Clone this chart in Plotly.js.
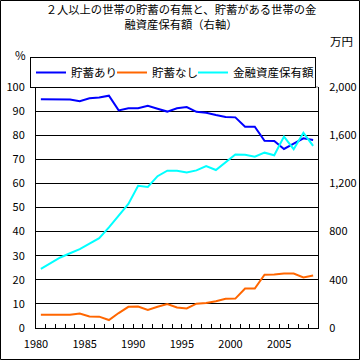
<!DOCTYPE html>
<html>
<head>
<meta charset="utf-8">
<script src="https://cdn.plot.ly/plotly-3.0.1.min.js"></script>
<style>html,body{margin:0;padding:0;background:#fff;}#chart{width:362px;height:362px;}</style>
</head>
<body>
<div id="chart"></div>
<script>
const years = [1980,1981,1982,1983,1984,1985,1986,1987,1988,1989,1990,1991,1992,1993,1994,1995,1996,1997,1998,1999,2000,2001,2002,2003,2004,2005,2006,2007,2008];
const withSavings = [94.9,94.9,94.9,94.8,94.1,95.3,95.6,96.4,90.3,91.2,91.2,92.2,91.0,89.8,91.2,91.7,89.7,89.3,88.4,87.6,87.4,83.5,83.5,77.7,77.6,74.3,76.5,78.7,78.0];
const withoutSavings = [5.5,5.5,5.5,5.5,6.0,4.8,4.7,3.3,6.2,8.8,8.9,7.5,8.8,9.9,8.5,8.1,10.1,10.4,11.1,12.1,12.2,16.4,16.4,22.1,22.2,22.6,22.6,21.0,21.8];
const financialAssets = [490,537,585,620,655,700,745,835,935,1030,1180,1170,1260,1305,1305,1290,1308,1344,1311,1376,1440,1438,1422,1455,1433,1588,1484,1620,1512];
const seriesNames = ['貯蓄あり','貯蓄なし','金融資産保有額'];
const yearTicks = [1980,1985,1990,1995,2000,2005];
const rightTicks = [0,400,800,1200,1600,2000];

const FONT = '"Noto Sans CJK JP", "Noto Sans", sans-serif';

// category boundaries (tick marks sit between categories, labels at category centres)
const boundaries = years.map(y => y - 0.5).concat([years[years.length - 1] + 0.5]);
const boundaryText = years.map(y => yearTicks.includes(y) ? String(y) : '').concat(['']);

const traces = [
  {x: years, y: withSavings, name: seriesNames[0], type: 'scatter', mode: 'lines',
   line: {color: '#0000FF', width: 2}, legendwidth: 36},
  {x: years, y: withoutSavings, name: seriesNames[1], type: 'scatter', mode: 'lines',
   line: {color: '#FF6600', width: 2}, legendwidth: 36},
  {x: years, y: financialAssets, name: seriesNames[2], type: 'scatter', mode: 'lines', yaxis: 'y2',
   line: {color: '#00FFFF', width: 2}, legendwidth: 77}
];

const plotW = 282;
const catW = plotW / years.length;

const layout = {
  width: 362, height: 362,
  margin: {l: 36, r: 44, t: 87, b: 34},
  paper_bgcolor: '#ffffff', plot_bgcolor: '#ffffff',
  font: {family: FONT, size: 11, color: '#000'},
  title: {
    text: '２人以上の世帯の貯蓄の有無と、貯蓄がある世帯の金<br>融資産保有額（右軸）',
    font: {family: FONT, size: 11.3, color: '#000'},
    x: 0.5, xanchor: 'center', xref: 'container',
    y: 1 - 14/362, yanchor: 'top', yref: 'container'
  },
  showlegend: true,
  legend: {
    orientation: 'h', x: (30-36)/282, xanchor: 'left', y: (328-57)/241, yanchor: 'top',
    bgcolor: '#ffffff', bordercolor: '#000', borderwidth: 1,
    font: {family: FONT, size: 11.5, color: '#000'},
    entrywidthmode: 'pixels', itemwidth: 30
  },
  xaxis: {
    range: [1979.5, 2008.5], fixedrange: true,
    tickmode: 'array', tickvals: boundaries, ticktext: boundaryText,
    ticks: 'inside', ticklen: 4, tickcolor: '#000', tickwidth: 1,
    ticklabelshift: catW / 2,
    showgrid: false, zeroline: false,
    showline: true, linecolor: '#000', linewidth: 1,
    ticklabelstandoff: 6,
    tickfont: {family: FONT, size: 11, color: '#000'}
  },
  yaxis: {
    range: [0, 100], dtick: 10, tick0: 0, fixedrange: true,
    ticks: '', showgrid: true, gridcolor: '#000', gridwidth: 1,
    zeroline: false, showline: true, linecolor: '#000', linewidth: 1,
    ticklabelstandoff: 8,
    tickfont: {family: FONT, size: 11, color: '#000'}
  },
  yaxis2: {
    range: [0, 2000], overlaying: 'y', side: 'right', fixedrange: true,
    tickmode: 'array', tickvals: rightTicks, tickformat: ',d', ticks: '',
    showgrid: false, zeroline: false, showline: true, linecolor: '#000', linewidth: 1,
    ticklabelstandoff: 8,
    tickfont: {family: FONT, size: 11, color: '#000'}
  },
  shapes: [
    {type: 'line', xref: 'paper', yref: 'paper', x0: 0, x1: 1, y0: 1, y1: 1,
     line: {color: '#808080', width: 1}, layer: 'above'},
    {type: 'rect', xref: 'paper', yref: 'paper',
     x0: (0.5-36)/282, x1: (359.5-36)/282, y0: (328-359.5)/241, y1: (328-0.5)/241,
     line: {color: '#000', width: 1}, fillcolor: 'rgba(0,0,0,0)', layer: 'above'}
  ],
  annotations: [
    {text: '%', xref: 'paper', yref: 'paper', x: (20-36)/282, y: (328-55)/241,
     xanchor: 'center', yanchor: 'middle', showarrow: false, font: {family: FONT, size: 11.5, color: '#000'}},
    {text: '万円', xref: 'paper', yref: 'paper', x: (341.5-36)/282, y: (328-41)/241,
     xanchor: 'center', yanchor: 'middle', showarrow: false, font: {family: FONT, size: 11.5, color: '#000'}}
  ]
};

Plotly.newPlot('chart', traces, layout, {staticPlot: true, displayModeBar: false});
</script>
</body>
</html>
